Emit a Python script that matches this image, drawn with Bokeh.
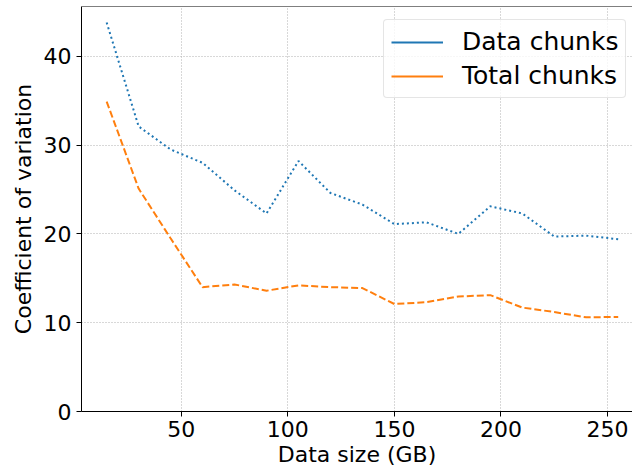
from bokeh.plotting import figure
from bokeh.models import Range1d, FixedTicker, Legend, LegendItem, Span
from bokeh.embed import file_html
from bokeh.resources import INLINE

# Data
data_size = [15, 30, 45, 60, 75, 90, 105, 120, 135, 150, 165, 180, 195, 210, 225, 240, 255]
data_chunks = [43.8, 32.1, 29.5, 28.0, 24.9, 22.3, 28.2, 24.6, 23.3, 21.1, 21.3, 20.0, 23.1, 22.3, 19.7, 19.8, 19.4]
total_chunks = [34.9, 25.1, 19.5, 14.0, 14.3, 13.6, 14.2, 14.0, 13.9, 12.1, 12.3, 12.95, 13.1, 11.7, 11.2, 10.6, 10.65]
x_ticks = [50, 100, 150, 200, 250]
y_ticks = [0, 10, 20, 30, 40]
series_labels = ["Data chunks", "Total chunks"]
series_colors = ["#1f77b4", "#ff7f0e"]
x_title = "Data size (GB)"
y_title = "Coefficient of variation"

FONT = "DejaVu Sans"
FS = "22px"
LFS = "25px"
Y_END = 45.6

p = figure(width=632, height=474, output_backend="svg", toolbar_location=None,
           x_range=Range1d(3.2, 261.7), y_range=Range1d(0, Y_END),
           min_border_left=81, min_border_right=0, min_border_top=6, min_border_bottom=63)
p.outline_line_color = None
p.background_fill_color = "white"
p.border_fill_color = "white"

# grid
for g in (p.xgrid, p.ygrid):
    g.grid_line_color = "#b0b0b0"
    g.grid_line_width = 1
    g.grid_line_dash = "1 2"
p.xaxis.ticker = FixedTicker(ticks=x_ticks)
p.yaxis.ticker = FixedTicker(ticks=y_ticks)
p.xgrid.ticker = FixedTicker(ticks=x_ticks)
p.ygrid.ticker = FixedTicker(ticks=y_ticks)

for ax in (p.xaxis, p.yaxis):
    ax.axis_line_color = "black"
    ax.axis_line_width = 1
    ax.major_tick_line_color = "black"
    ax.major_tick_line_width = 1
    ax.major_tick_out = 5
    ax.major_tick_in = 0
    ax.minor_tick_line_color = None
    ax.major_label_text_font = FONT
    ax.major_label_text_font_size = FS
    ax.major_label_text_color = "black"
    ax.axis_label_text_font = FONT
    ax.axis_label_text_font_size = FS
    ax.axis_label_text_font_style = "normal"
    ax.axis_label_text_color = "black"

p.xaxis.axis_label = x_title
p.yaxis.axis_label = y_title
p.xaxis.major_label_standoff = 4
p.xaxis.axis_label_standoff = 2
p.yaxis.major_label_standoff = 5
p.yaxis.axis_label_standoff = 5

# top spine
p.add_layout(Span(location=Y_END, dimension="width", line_color="black", line_width=1))

# series
p.line(data_size, data_chunks, line_color=series_colors[0], line_width=2, line_dash="2 3")
p.line(data_size, total_chunks, line_color=series_colors[1], line_width=2, line_dash="7 3")

# legend proxies (solid lines, drawn outside the visible range)
d1 = p.line([-100, -90], [-100, -100], line_color=series_colors[0], line_width=2)
d2 = p.line([-100, -90], [-100, -100], line_color=series_colors[1], line_width=2)

legend = Legend(items=[LegendItem(label=series_labels[0], renderers=[d1]),
                       LegendItem(label=series_labels[1], renderers=[d2])],
                location=(302, 313))
legend.label_text_font = FONT
legend.label_text_font_size = LFS
legend.label_text_color = "black"
legend.glyph_width = 52
legend.glyph_height = 28
legend.label_height = 28
legend.label_standoff = 19
legend.padding = 7
legend.spacing = 5
legend.margin = 0
legend.border_line_color = "#cccccc"
legend.border_line_width = 1
legend.background_fill_color = "white"
legend.background_fill_alpha = 0.8
if "border_radius" in Legend.properties():
    legend.border_radius = 4
p.add_layout(legend)

open("out.html", "w").write(file_html(p, INLINE))
